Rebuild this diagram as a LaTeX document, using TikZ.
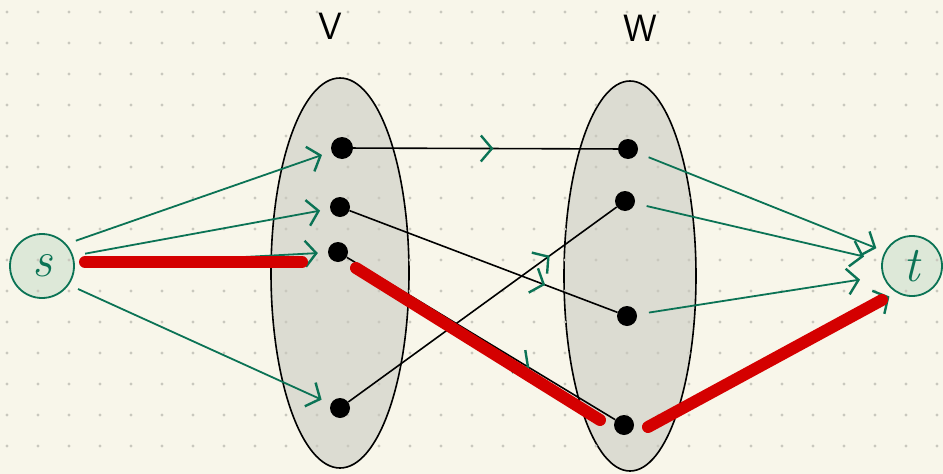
\documentclass[tikz,border=0pt]{standalone}
\usetikzlibrary{arrows.meta,decorations.markings}
\definecolor{paper}{HTML}{F8F6EA}
\definecolor{griddot}{HTML}{C9C8BE}
\definecolor{setgray}{HTML}{DCDCD2}
\definecolor{flowgreen}{HTML}{0B7355}
\definecolor{termfill}{HTML}{DDE8D8}
\definecolor{pathred}{HTML}{D40000}
\begin{document}
\begin{tikzpicture}[x=1pt,y=-1pt,
    gtip/.tip={Straight Barb[length=11pt,width=26pt,line width=2.4pt]},
    gedge/.style={draw=flowgreen,line width=1.8pt,-{gtip}},
    medge/.style={draw=black,line width=1.6pt,postaction={decorate},
        decoration={markings,mark=at position #1 with {\arrow[flowgreen]{gtip}}}},
    redpath/.style={draw=pathred,line width=12pt,line cap=round},
    term/.style={circle,draw=flowgreen,fill=termfill,line width=1.8pt,minimum size=64pt,inner sep=0pt,
        font=\fontsize{50}{50}\selectfont\itshape,text=flowgreen},
    vert/.style={circle,fill=black,minimum size=20pt,inner sep=0pt},
    setlabel/.style={font=\fontsize{38}{38}\selectfont\sffamily}]
\fill[paper] (0,0) rectangle (943,474);
\useasboundingbox (0,0) rectangle (943,474);
% the two vertex sets
\draw[fill=setgray,line width=1.6pt] (340,273) ellipse [x radius=69pt,y radius=195pt];
\draw[fill=setgray,line width=1.6pt] (630,276) ellipse [x radius=66pt,y radius=195pt];
\node[term] (s) at (42,266) {s};
\node[term,minimum size=60pt] (t) at (912,266) {t};
% dotted grid
\foreach \gx in {0,...,30}{
    \foreach \gy in {0,...,15}{
        \fill[griddot] ({7+31*\gx},{12+31*\gy}) circle[radius=1.6pt];
    }
}
\node[setlabel] (V) at (330,26) {V};
\node[setlabel] (W) at (640,28) {W};
\node[vert,minimum size=22pt] (v1) at (342,148) {};
\node[vert] (v2) at (340,207) {};
\node[vert] (v3) at (338,252) {};
\node[vert] (v4) at (340,408) {};
\node[vert] (w1) at (628,149) {};
\node[vert] (w2) at (625,201) {};
\node[vert] (w3) at (627,316) {};
\node[vert] (w4) at (624,425) {};
% matching edges
\draw[medge=0.53] (v1) -- (w1);
\draw[medge=0.73] (v2) -- (w3);
\draw[medge=0.75] (v4) -- (w2);
\draw[medge=0.68] (v3) -- (w4);
% source and sink edges
\foreach \v/\a/\g in {v1/42/10,v2/18/12,v3/0/14,v4/-35/10}{
    \draw[gedge,shorten <=\g pt,shorten >=10pt] (s.\a) -- (\v);
}
\foreach \w/\a/\g in {w1/152/9,w2/170/18,w3/199/23}{
    \draw[gedge,shorten <=12pt,shorten >=\g pt] (\w) -- (t.\a);
}
\draw[gedge,shorten <=16pt,shorten >=8pt] (w4.-40) -- (t.240);
% augmenting path
\coordinate (p1) at (85,262);
\coordinate (p2) at (302,262);
\coordinate (p3) at (356,268);
\coordinate (p4) at (600,420);
\coordinate (p5) at (648,427);
\coordinate (p6) at (882,300);
\draw[redpath] (p1) -- (p2);
\draw[redpath] (p3) -- (p4);
\draw[redpath] (p5) -- (p6);
\end{tikzpicture}
\end{document}
